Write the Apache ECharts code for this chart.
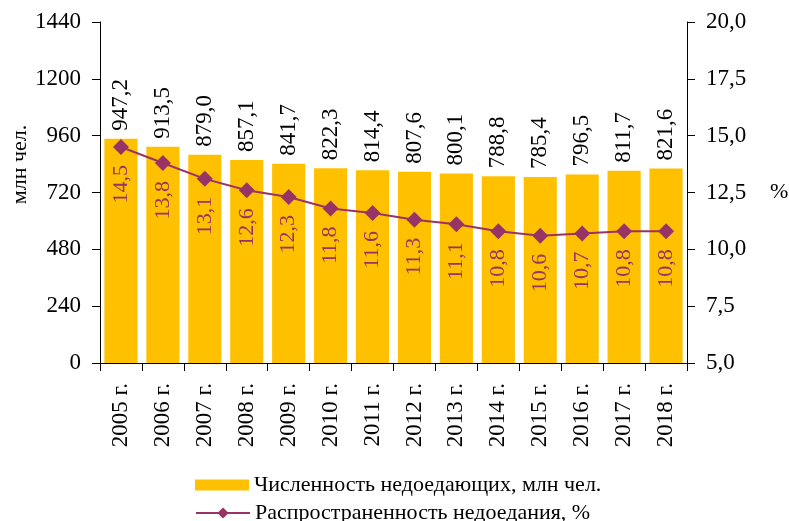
<!DOCTYPE html>
<html><head><meta charset="utf-8">
<script src="https://cdn.jsdelivr.net/npm/echarts@6/dist/echarts.min.js"></script>
<style>html,body{margin:0;padding:0;background:#fff}#c{width:789px;height:521px}</style>
</head><body><div id="c"></div>
<script>
const categories = ['2005 г.','2006 г.','2007 г.','2008 г.','2009 г.','2010 г.','2011 г.','2012 г.','2013 г.','2014 г.','2015 г.','2016 г.','2017 г.','2018 г.'];
const undernourished = [947.2, 913.5, 879.0, 857.1, 841.7, 822.3, 814.4, 807.6, 800.1, 788.8, 785.4, 796.5, 811.7, 821.6];
const prevalence = [14.5, 13.8, 13.1, 12.6, 12.3, 11.8, 11.6, 11.3, 11.1, 10.8, 10.6, 10.7, 10.8, 10.8];
const seriesNames = ['Численность недоедающих, млн чел.', 'Распространенность недоедания, %'];

const FONT = '"Liberation Serif", "Times New Roman", serif';
const fmt = v => Number(v).toFixed(1).replace('.', ',');
const chart = echarts.init(document.getElementById('c'));
const legendText = {fontFamily: FONT, fontSize: 22, color: '#000'};
chart.setOption({
  animation: false,
  textStyle: {fontFamily: FONT, color: '#000'},
  grid: {left: 100, right: 102, top: 22, bottom: 158, containLabel: false, outerBoundsMode: 'none'},
  legend: [{
    orient: 'vertical', left: 190, top: 469, itemWidth: 54, itemHeight: 11, itemGap: 6,
    textStyle: legendText,
    data: [{name: seriesNames[0], icon: 'rect'}]
  }, {
    orient: 'vertical', left: 190, top: 497, itemWidth: 54, itemHeight: 14, itemGap: 6,
    textStyle: legendText,
    data: [{name: seriesNames[1]}]
  }],
  xAxis: {
    type: 'category', data: categories,
    axisLine: {lineStyle: {color: '#000', width: 1}},
    axisTick: {show: true, length: 8, alignWithLabel: false, lineStyle: {color: '#000'}},
    axisLabel: {rotate: 90, fontSize: 23, color: '#000', fontFamily: FONT, margin: 20, interval: 0}
  },
  yAxis: [{
    type: 'value', min: 0, max: 1440, interval: 240,
    name: 'млн чел.', nameLocation: 'middle', nameGap: 69, nameRotate: 90, nameMoveOverlap: false,
    nameTextStyle: {fontSize: 22, fontFamily: FONT, color: '#000', padding: [0, 0, 0, 56]},
    axisLine: {show: true, lineStyle: {color: '#000'}},
    axisTick: {show: true, length: 8, lineStyle: {color: '#000'}},
    axisLabel: {fontSize: 23, color: '#000', fontFamily: FONT, margin: 19, formatter: v => String(v)},
    splitLine: {show: false}
  }, {
    type: 'value', min: 5, max: 20, interval: 2.5, position: 'right',
    name: '%', nameLocation: 'middle', nameGap: 83, nameRotate: 0, nameMoveOverlap: false,
    nameTextStyle: {fontSize: 22, fontFamily: FONT, color: '#000'},
    axisLine: {show: true, lineStyle: {color: '#000'}},
    axisTick: {show: true, length: 8, lineStyle: {color: '#000'}},
    axisLabel: {fontSize: 23, color: '#000', fontFamily: FONT, margin: 19, formatter: v => fmt(v)},
    splitLine: {show: false}
  }],
  series: [{
    name: seriesNames[0], type: 'bar', data: undernourished, yAxisIndex: 0,
    barCategoryGap: '21%',
    itemStyle: {color: '#FFC000'},
    label: {show: true, position: 'top', rotate: 90, align: 'left', verticalAlign: 'middle', distance: 8,
      fontSize: 23, fontFamily: FONT, color: '#000', formatter: p => fmt(p.value)}
  }, {
    name: seriesNames[1], type: 'line', data: prevalence, yAxisIndex: 1,
    symbol: 'diamond', symbolSize: 16,
    lineStyle: {color: '#993366', width: 2},
    itemStyle: {color: '#993366'},
    label: {show: true, position: 'bottom', rotate: 90, align: 'right', verticalAlign: 'middle', distance: 10,
      fontSize: 22, fontFamily: FONT, color: '#993366', formatter: p => fmt(p.value)}
  }]
});
</script></body></html>
